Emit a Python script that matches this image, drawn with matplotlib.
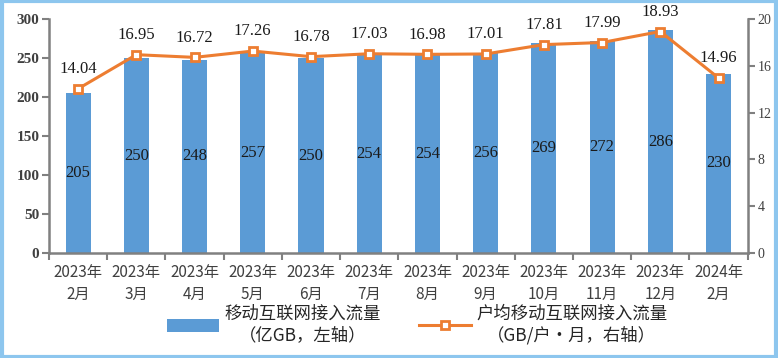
import numpy as np
import matplotlib.pyplot as plt
from matplotlib.patches import Rectangle

months = ['2023年\n2月', '2023年\n3月', '2023年\n4月', '2023年\n5月', '2023年\n6月', '2023年\n7月',
          '2023年\n8月', '2023年\n9月', '2023年\n10月', '2023年\n11月', '2023年\n12月', '2024年\n2月']
traffic = [205, 250, 248, 257, 250, 254, 254, 256, 269, 272, 286, 230]
per_user = [14.04, 16.95, 16.72, 17.26, 16.78, 17.03, 16.98, 17.01, 17.81, 17.99, 18.93, 14.96]

cjk = ['Noto Sans CJK SC', 'DejaVu Sans']
serif = 'Liberation Serif'
bar_color = '#5B9BD5'
line_color = '#ED7D31'
axis_gray = '#808080'

fig = plt.figure(figsize=(7.78, 3.58), dpi=100)
ax = fig.add_axes([0.063, 0.293, 0.898, 0.654])
ax2 = ax.twinx()

x = np.arange(len(months))
bars = ax.bar(x, traffic, width=0.43, color=bar_color, zorder=2,
              label='移动互联网接入流量\n（亿GB，左轴）')
for xi, v in zip(x, traffic):
    ax.text(xi, v / 2, str(v), ha='center', va='center', fontsize=12,
            family=serif, color='#1a1a1a', zorder=3)

line, = ax2.plot(x, per_user, color=line_color, lw=2.2, marker='s', markersize=6,
                 markerfacecolor='white', markeredgecolor=line_color, markeredgewidth=2,
                 label='户均移动互联网接入流量\n（GB/户·月，右轴）', zorder=4)
for xi, v in zip(x, per_user):
    ax2.text(xi, v + 1.0, f'{v:.2f}', ha='center', va='bottom', fontsize=12,
             family=serif, color='#1a1a1a', clip_on=False)

ax.set_xlim(-0.5, len(months) - 0.5)
ax.set_ylim(0, 300)
ax.set_yticks(range(0, 301, 50))
ax2.set_ylim(0, 20)
ax2.set_yticks(range(0, 21, 4))

ax.set_xticks(np.arange(len(months) + 1) - 0.5)
ax.set_xticklabels([])
ax.set_xticks(x, minor=True)
ax.set_xticklabels(months, minor=True, family=cjk, fontsize=11, color='#404040',
                   linespacing=1.35)
ax.tick_params(axis='x', which='major', length=5, width=1.5, color=axis_gray, direction='out')
ax.tick_params(axis='x', which='minor', length=0, pad=8)

for t in ax.get_yticklabels():
    t.set_family(serif)
    t.set_fontweight('bold')
    t.set_color('#404040')
    t.set_fontsize(11)
ax.tick_params(axis='y', length=5, width=1.5, color=axis_gray, pad=2)
for t in ax2.get_yticklabels():
    t.set_family(serif)
    t.set_color('#404040')
    t.set_fontsize(10)
ax2.tick_params(axis='y', length=5, width=1.5, color=axis_gray, pad=2)

for a in (ax, ax2):
    a.spines['top'].set_visible(False)
    for s in ('left', 'right', 'bottom'):
        a.spines[s].set_color(axis_gray)
        a.spines[s].set_linewidth(1.8)
ax.spines['right'].set_visible(False)
ax2.spines['left'].set_visible(False)
ax2.spines['bottom'].set_visible(False)

leg = fig.legend([bars, line], [bars.get_label(), line.get_label()], loc='lower center',
                 bbox_to_anchor=(0.536, -0.005), ncol=2, frameon=False, columnspacing=2.2,
                 handlelength=3, handleheight=0.85, handletextpad=0.3,
                 prop={'family': cjk, 'size': 12.5})
for t in leg.get_texts():
    t.set_multialignment('center')
    t.set_color('#262626')
    t.set_linespacing(1.2)

fig.patches.append(Rectangle((0.002, 0.003), 0.996, 0.994, transform=fig.transFigure,
                             fill=False, edgecolor='#8DC6EE', linewidth=3))

fig.savefig('out.png', dpi=100)
